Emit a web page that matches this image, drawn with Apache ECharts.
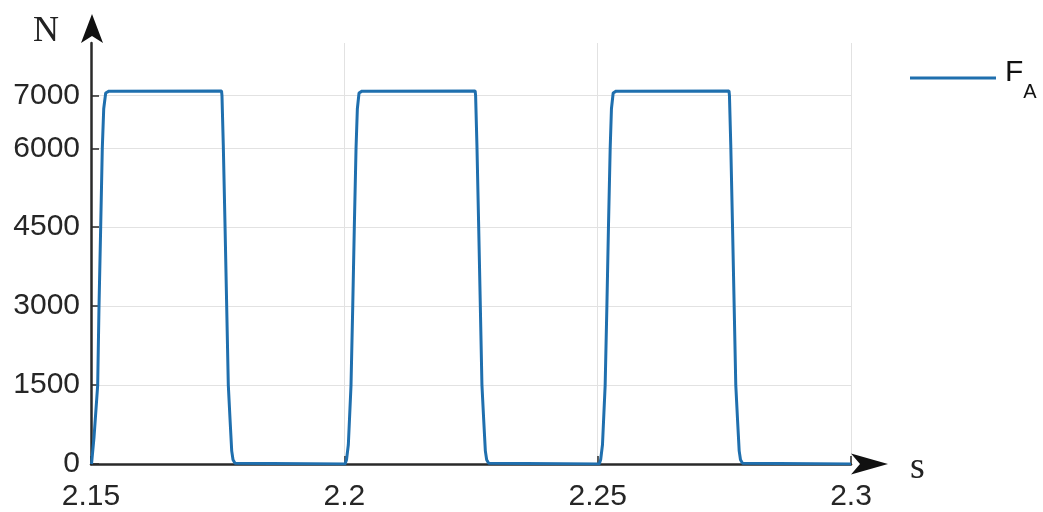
<!DOCTYPE html>
<html>
<head>
<meta charset="utf-8">
<script src="https://cdn.jsdelivr.net/npm/echarts@6/dist/echarts.min.js"></script>
<style>
html,body{margin:0;padding:0;background:#fff;}
#chart{width:1043px;height:512px;}
</style>
</head>
<body>
<div id="chart"></div>
<script>
// time in seconds
const timeS = [
  2.15010, 2.15059, 2.15132, 2.15158, 2.15191, 2.15223, 2.15251, 2.15290, 2.15355,
  2.17576, 2.17585, 2.17611, 2.17645, 2.17678, 2.17710, 2.17743, 2.17777, 2.17803, 2.17842, 2.17881,
  2.20014, 2.20043, 2.20079, 2.20132, 2.20166, 2.20197, 2.20231, 2.20257, 2.20290, 2.20349,
  2.22582, 2.22591, 2.22617, 2.22651, 2.22684, 2.22716, 2.22749, 2.22783, 2.22809, 2.22848, 2.22887,
  2.25030, 2.25059, 2.25095, 2.25148, 2.25182, 2.25213, 2.25247, 2.25272, 2.25306, 2.25365,
  2.27592, 2.27601, 2.27627, 2.27661, 2.27694, 2.27726, 2.27759, 2.27793, 2.27819, 2.27858, 2.27897,
  2.30000
];
// force F_A in newtons
const forceN = [
  0, 500, 1500, 3000, 4500, 6000, 6750, 7050, 7085,
  7090, 7000, 6060, 4540, 3000, 1500, 870, 250, 80, 15, 0,
  0, 80, 366, 1500, 3000, 4500, 6000, 6750, 7050, 7085,
  7090, 7000, 6060, 4540, 3000, 1500, 870, 250, 80, 15, 0,
  0, 80, 366, 1500, 3000, 4500, 6000, 6750, 7050, 7085,
  7090, 7000, 6060, 4540, 3000, 1500, 870, 250, 80, 15, 0,
  0
];
const yTicks = [0, 1500, 3000, 4500, 6000, 7000];
const xTicks = [2.15, 2.2, 2.25, 2.3];
const yMax = 8000;
const seriesName = 'F_A';

const seriesData = timeS.map((t, i) => [t, forceN[i]]);

const chart = echarts.init(document.getElementById('chart'), null, {renderer: 'canvas'});
const axisColor = '#2a2a2a';
const labelFont = {color: '#262626', fontSize: 30, fontFamily: 'Liberation Sans, Arial, sans-serif'};

chart.setOption({
  animation: false,
  backgroundColor: '#ffffff',
  grid: {left: 91, right: 192, top: 43, bottom: 46, containLabel: false},
  legend: {
    left: 905, top: 53,
    itemWidth: 86, itemHeight: 3,
    data: [{name: seriesName, icon: 'rect'}],
    formatter: function () { return '{f|F}{a|A}'; },
    textStyle: {
      rich: {
        f: {fontSize: 30, fontFamily: 'Liberation Sans, Arial, sans-serif', color: '#111', padding: [0, 0, 10, 4]},
        a: {fontSize: 20, fontFamily: 'Liberation Sans, Arial, sans-serif', color: '#111', padding: [28, 0, 0, 0]}
      }
    }
  },
  xAxis: {
    type: 'value',
    min: xTicks[0], max: xTicks[xTicks.length - 1],
    interval: 0.05,
    axisLine: {show: true, onZero: false, lineStyle: {color: axisColor, width: 2.5}},
    axisTick: {show: true, inside: true, length: 8, lineStyle: {color: axisColor, width: 1.5}},
    axisLabel: Object.assign({margin: 18, showMinLabel: true, showMaxLabel: true,
      formatter: function (v) { return String(Math.round(v * 100) / 100); }}, labelFont),
    splitLine: {show: true, lineStyle: {color: '#e2e2e2', width: 1}}
  },
  yAxis: {
    type: 'value',
    min: 0, max: yMax,
    axisLine: {show: true, onZero: false, lineStyle: {color: axisColor, width: 2.5}},
    axisTick: {show: true, inside: true, length: 8, customValues: yTicks, lineStyle: {color: axisColor, width: 1.5}},
    axisLabel: Object.assign({margin: 11, customValues: yTicks,
      formatter: function (v) { return String(v); }}, labelFont),
    splitLine: {show: true, lineStyle: {color: '#e2e2e2', width: 1}}
  },
  series: [{
    name: seriesName,
    type: 'line',
    data: seriesData,
    symbol: 'none',
    showSymbol: false,
    smooth: false,
    clip: true,
    lineStyle: {color: '#1f6fae', width: 3},
    itemStyle: {color: '#1f6fae'},
    z: 3
  }]
});

// axis arrows and axis unit names, placed at the axis ends
const yEnd = chart.convertToPixel({gridIndex: 0}, [xTicks[0], yMax]);
const xEnd = chart.convertToPixel({gridIndex: 0}, [xTicks[xTicks.length - 1], 0]);
const ax = yEnd[0] + 1, ay = yEnd[1];
const bx = xEnd[0], by = xEnd[1];
chart.setOption({
  graphic: [
    {type: 'polygon', z: 100, shape: {points: [[ax, ay - 29], [ax + 11, ay], [ax, ay - 7], [ax - 11, ay]]},
      style: {fill: '#111111'}},
    {type: 'polygon', z: 100, shape: {points: [[bx + 37, by], [bx, by - 10.5], [bx + 9, by], [bx, by + 10.5]]},
      style: {fill: '#111111'}},
    {type: 'text', left: 33, top: 14, style: {text: 'N', font: '36px "Liberation Serif", "Times New Roman", serif', fill: '#222'}},
    {type: 'text', left: 910, top: 449, style: {text: 's', font: '38px "Liberation Serif", "Times New Roman", serif', fill: '#222'}}
  ]
});
</script>
</body>
</html>
